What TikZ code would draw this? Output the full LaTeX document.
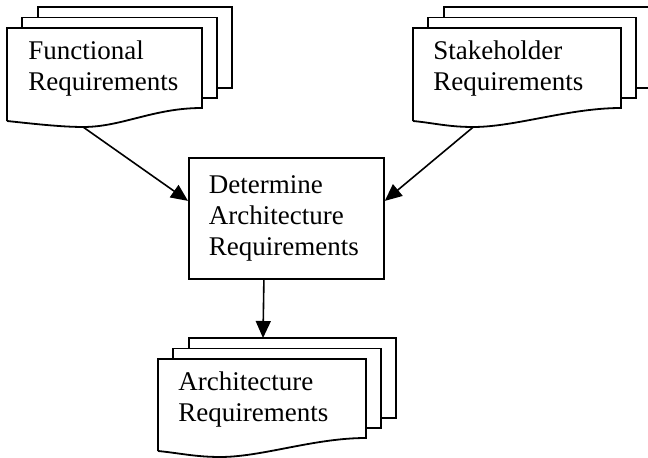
\documentclass[tikz,border=0pt]{standalone}
\usepackage{fontspec}
\setmainfont{Liberation Serif}
\usetikzlibrary{arrows.meta}

% stack of three sheets: name, left, top, right, bottom, dip position
\newcommand{\docstack}[6]{%
  \draw[sheet] (#2+31,#3-10.5) -- (#2+31,#3-21) -- (#4+30,#3-21) -- (#4+30,#5-20) -- (#4+15,#5-20);
  \draw[sheet] (#2+15,#3) -- (#2+15,#3-10.5) -- (#4+15,#3-10.5) -- (#4+15,#5-10) -- (#4,#5-10);
  \draw[sheet] (#2,#5+13) -- (#2,#3) -- (#4,#3) -- (#4,#5)
    .. controls ({#2+0.75*(#4-#2)},#5) and ({#2+(#6+0.2)*(#4-#2)},#5+19) .. ({#2+#6*(#4-#2)},#5+19)
    .. controls ({#2+(#6-0.12)*(#4-#2)},#5+19) and ({#2+0.1*(#4-#2)},#5+15) .. (#2,#5+13);
  \coordinate (#1) at ({#2+#6*(#4-#2)},#5+19);
}

\begin{document}
\begin{tikzpicture}[x=0.5pt,y=-0.5pt,
  every node/.style={font=\fontsize{13.5}{15.5}\selectfont},
  sheet/.style={line width=0.9pt,line join=miter},
  doctext/.style={anchor=north west,inner sep=0,align=left},
  arr/.style={line width=0.8pt,-{Triangle[length=8.5pt,width=7.5pt]}}]
\clip (0,0) rectangle (648,458);

\docstack{funcdip}{7}{28}{202}{108}{0.39}
\docstack{stakedip}{413}{28}{621}{108}{0.29}
\docstack{archdip}{158}{359}{366}{438}{0.3}

\node[doctext] (func) at (28,40.5) {Functional\\Requirements};
\node[doctext] (stake) at (433,40.5) {Stakeholder\\Requirements};
\node[doctext] (arch) at (178,371.5) {Architecture\\Requirements};
\coordinate (archin) at (263,338);

\node[draw,line width=0.9pt,anchor=north west,minimum width=97.5pt,minimum height=60.5pt,
  text width=77.5pt,inner xsep=10pt,align=left] (detbox) at (188,157)
  {Determine\\Architecture\\Requirements};

\draw[arr] (funcdip) -- ([yshift=8.75pt]detbox.west);
\draw[arr] (stakedip) -- ([yshift=8.75pt]detbox.east);
\draw[arr] ([xshift=-11.25pt]detbox.south) -- (archin);
\end{tikzpicture}
\end{document}
